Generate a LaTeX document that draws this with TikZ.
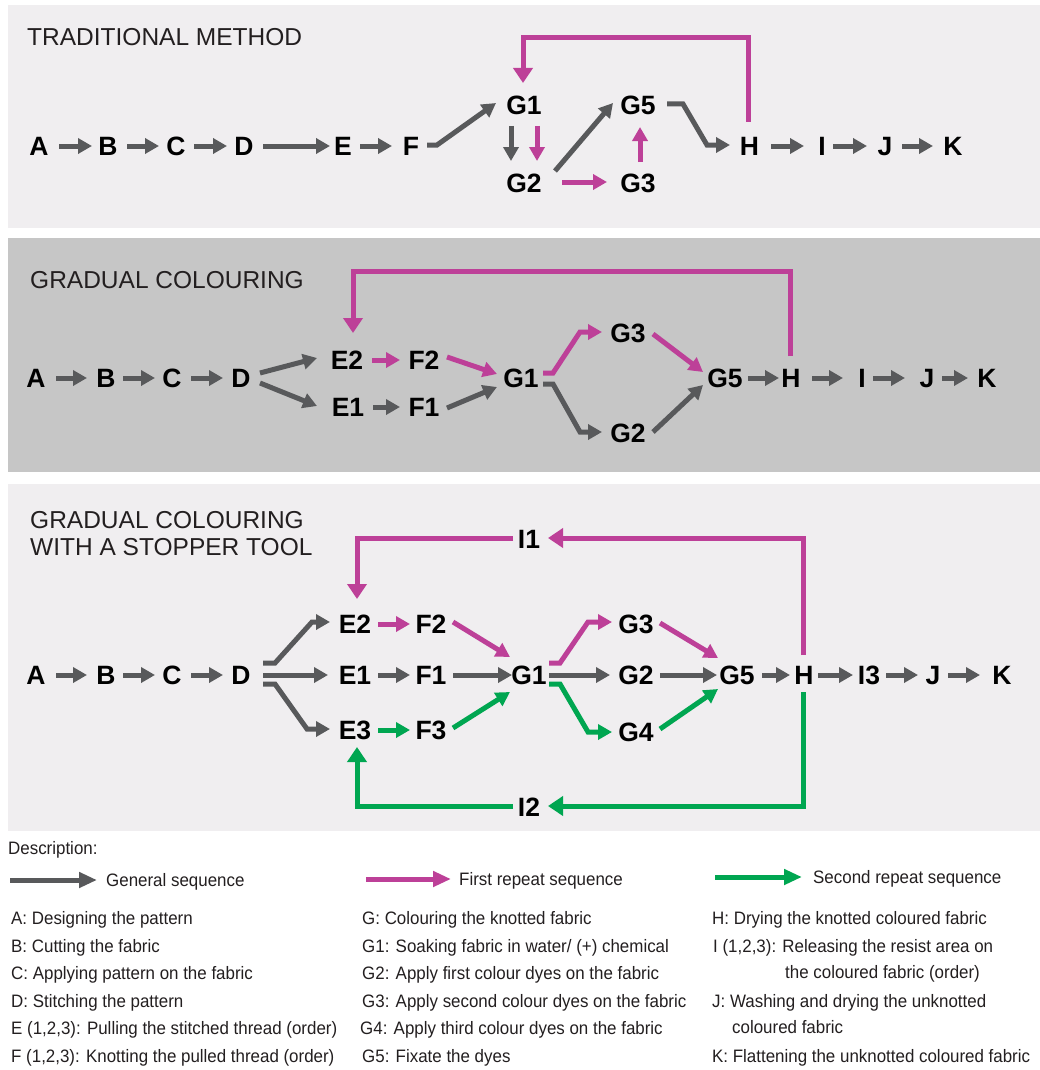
\documentclass[tikz,border=0pt]{standalone}
\usepackage{fontspec}
\setmainfont{Liberation Sans}
\newfontfamily\legendfont[FakeStretch=0.94]{Liberation Sans}
\usetikzlibrary{arrows.meta,calc}

\definecolor{seqgray}{RGB}{88,89,91}
\definecolor{seqmag}{RGB}{189,64,152}
\definecolor{seqgreen}{RGB}{0,166,81}
\definecolor{panellight}{RGB}{240,238,240}
\definecolor{panelmid}{RGB}{198,198,198}
\definecolor{inktext}{RGB}{35,31,32}

\tikzset{
  stepnode/.style={font=\fontsize{26.5}{31}\selectfont\bfseries, inner sep=0pt,
    text height=19pt, text depth=0pt, anchor=center},
  flow/.style={line width=5pt, line join=miter, -{Triangle[length=14pt,width=15pt]}},
  gen/.style={flow, draw=seqgray},
  rep1/.style={flow, draw=seqmag},
  rep2/.style={flow, draw=seqgreen},
  loopflow/.style={line width=5pt, line join=miter, -{Triangle[length=15pt,width=19pt]}},
  paneltitle/.style={font=\fontsize{24.5}{28}\selectfont, text=inktext, anchor=west,
    inner sep=0pt, text height=17.5pt, text depth=0pt},
  legtext/.style={font=\legendfont\fontsize{18}{21}\selectfont, text=inktext, anchor=west,
    inner sep=0pt, text height=12.9pt, text depth=0pt},
  legarrow/.style={line width=5pt, -{Triangle[length=18pt,width=15pt]}},
}

\begin{document}
\begin{tikzpicture}[x=1pt,y=-1pt]
\useasboundingbox (0,0) rectangle (1040,1070);
\fill[white] (0,0) rectangle (1040,1070);

% panels
\fill[panellight] (8,5) rectangle (1040,228);
\fill[panelmid] (8,238) rectangle (1040,472);
\fill[panellight] (8,484) rectangle (1040,831);

% ---------------- traditional method ----------------
\node[paneltitle] (t1) at (27,37) {TRADITIONAL METHOD};
\node[stepnode] (aA) at (39,146) {A};
\node[stepnode] (aB) at (108,146) {B};
\node[stepnode] (aC) at (176,146) {C};
\node[stepnode] (aD) at (244,146) {D};
\node[stepnode] (aE) at (343,146) {E};
\node[stepnode] (aF) at (411,146) {F};
\node[stepnode] (aG1) at (524,105) {G1};
\node[stepnode] (aG2) at (524,183) {G2};
\node[stepnode] (aG5) at (638,105) {G5};
\node[stepnode] (aG3) at (638,183) {G3};
\node[stepnode] (aH) at (749.5,146) {H};
\node[stepnode] (aI) at (822,146) {I};
\node[stepnode] (aJ) at (885,146) {J};
\node[stepnode] (aK) at (953,146) {K};

\draw[gen] ($(aA)+(20,0)$) -- ($(aB)+(-16,0)$);
\draw[gen] ($(aB)+(19,0)$) -- ($(aC)+(-17,0)$);
\draw[gen] ($(aC)+(18,0)$) -- ($(aD)+(-17,0)$);
\draw[gen] ($(aD)+(19,0)$) -- ($(aE)+(-13,0)$);
\draw[gen] ($(aE)+(17,0)$) -- ($(aF)+(-19,0)$);
\draw[gen] ($(aF)+(16,-1)$) -- ++(10,0) -- ($(aG1)+(-28,-2)$);
\draw[gen] ($(aG1)+(-13,21)$) -- ($(aG2)+(-13,-22)$);
\draw[rep1] ($(aG1)+(13,21)$) -- ($(aG2)+(13,-22)$);
\draw[gen] ($(aG2)+(31,-12)$) -- ($(aG5)+(-25,-2)$);
\draw[rep1] ($(aG2)+(38,-1)$) -- ($(aG3)+(-31,-1)$);
\draw[rep1] ($(aG3)+(2,-21)$) -- ($(aG5)+(2,22)$);
\draw[gen] ($(aG5)+(29,-1)$) -- ++(16,0) -- ($(aH)+(-42.5,-1)$) -- ($(aH)+(-19.5,-1)$);
\draw[gen] ($(aH)+(21.5,0)$) -- ($(aI)+(-18,0)$);
\draw[gen] ($(aI)+(11,0)$) -- ($(aJ)+(-18,0)$);
\draw[gen] ($(aJ)+(17,0)$) -- ($(aK)+(-20,0)$);
\draw[loopflow, draw=seqmag] ($(aH)+(-1,-24)$) -- ++(0,-84) -| ($(aG1)+(-1,-22)$);

% ---------------- gradual colouring ----------------
\node[paneltitle] (t2) at (30,280) {GRADUAL COLOURING};
\node[stepnode] (bA) at (36,378) {A};
\node[stepnode] (bB) at (106,378) {B};
\node[stepnode] (bC) at (172,378) {C};
\node[stepnode] (bD) at (241,378) {D};
\node[stepnode] (bE2) at (347,360) {E2};
\node[stepnode] (bF2) at (424,360) {F2};
\node[stepnode] (bE1) at (348,407) {E1};
\node[stepnode] (bF1) at (424,407) {F1};
\node[stepnode] (bG1) at (521,378) {G1};
\node[stepnode] (bG3) at (628,333) {G3};
\node[stepnode] (bG2) at (628,433) {G2};
\node[stepnode] (bG5) at (725,378) {G5};
\node[stepnode] (bH) at (791,378) {H};
\node[stepnode] (bI) at (862,378) {I};
\node[stepnode] (bJ) at (927,378) {J};
\node[stepnode] (bK) at (987,378) {K};

\draw[gen] ($(bA)+(20,0)$) -- ($(bB)+(-19,0)$);
\draw[gen] ($(bB)+(17,0)$) -- ($(bC)+(-17,0)$);
\draw[gen] ($(bC)+(19,0)$) -- ($(bD)+(-18,0)$);
\draw[gen] ($(bD)+(19,-5)$) -- ($(bE2)+(-30,-2)$);
\draw[gen] ($(bD)+(19,5)$) -- ($(bE1)+(-31,-1)$);
\draw[rep1] ($(bE2)+(25,0)$) -- ($(bF2)+(-24,0)$);
\draw[gen] ($(bE1)+(25,0)$) -- ($(bF1)+(-24,0)$);
\draw[rep1] ($(bF2)+(23,-3)$) -- ($(bG1)+(-24,-4)$);
\draw[gen] ($(bF1)+(23,1)$) -- ($(bG1)+(-24,9)$);
\draw[rep1] ($(bG1)+(22,-5)$) -- ++(10,0) -- ($(bG3)+(-48,-1)$) -- ($(bG3)+(-26,-1)$);
\draw[gen] ($(bG1)+(22,6)$) -- ++(10,0) -- ($(bG2)+(-48,-1)$) -- ($(bG2)+(-26,-1)$);
\draw[rep1] ($(bG3)+(25,1)$) -- ($(bG5)+(-22,-6)$);
\draw[gen] ($(bG2)+(25,-1)$) -- ($(bG5)+(-22,7)$);
\draw[gen] ($(bG5)+(23,0)$) -- ($(bH)+(-12,0)$);
\draw[gen] ($(bH)+(21,0)$) -- ($(bI)+(-19,0)$);
\draw[gen] ($(bI)+(11,0)$) -- ($(bJ)+(-22,0)$);
\draw[gen] ($(bJ)+(15,0)$) -- ($(bK)+(-19,0)$);
\draw[loopflow, draw=seqmag] ($(bH)+(-1,-22)$) -- ++(0,-85) -| ($(bE2)+(6,-27)$);

% ---------------- gradual colouring with a stopper tool ----------------
\node[paneltitle] (t3a) at (30,520) {GRADUAL COLOURING};
\node[paneltitle] (t3b) at (30,547) {WITH A STOPPER TOOL};
\node[stepnode] (cA) at (36,675) {A};
\node[stepnode] (cB) at (106,675) {B};
\node[stepnode] (cC) at (172,675) {C};
\node[stepnode] (cD) at (241,675) {D};
\node[stepnode] (cE2) at (355,624) {E2};
\node[stepnode] (cF2) at (431,624) {F2};
\node[stepnode] (cE1) at (355,675) {E1};
\node[stepnode] (cF1) at (431,675) {F1};
\node[stepnode] (cE3) at (355,730) {E3};
\node[stepnode] (cF3) at (431,730) {F3};
\node[stepnode] (cG1) at (529,675) {G1};
\node[stepnode] (cG3) at (636,624) {G3};
\node[stepnode] (cG2) at (636,675) {G2};
\node[stepnode] (cG4) at (636,732) {G4};
\node[stepnode] (cG5) at (737,675) {G5};
\node[stepnode] (cH) at (804,675) {H};
\node[stepnode] (cI3) at (869,675) {I3};
\node[stepnode] (cJ) at (933,675) {J};
\node[stepnode] (cK) at (1002,675) {K};
\node[stepnode] (cI1) at (529,539) {I1};
\node[stepnode] (cI2) at (529,807) {I2};

\draw[gen] ($(cA)+(20,0)$) -- ($(cB)+(-19,0)$);
\draw[gen] ($(cB)+(17,0)$) -- ($(cC)+(-17,0)$);
\draw[gen] ($(cC)+(19,0)$) -- ($(cD)+(-18,0)$);
\draw[gen] ($(cD)+(22,-12)$) -- ++(12,0) -- ($(cE2)+(-43,-2)$) -- ($(cE2)+(-25,-2)$);
\draw[gen] ($(cD)+(22,0)$) -- ($(cE1)+(-27,0)$);
\draw[gen] ($(cD)+(22,9)$) -- ++(12,0) -- ($(cE3)+(-48,-1)$) -- ($(cE3)+(-25,-1)$);
\draw[rep1] ($(cE2)+(23,0)$) -- ($(cF2)+(-21,0)$);
\draw[gen] ($(cE1)+(23,0)$) -- ($(cF1)+(-21,0)$);
\draw[rep2] ($(cE3)+(23,0)$) -- ($(cF3)+(-21,0)$);
\draw[rep1] ($(cF2)+(22,-2)$) -- ($(cG1)+(-19,-18)$);
\draw[gen] ($(cF1)+(22,0)$) -- ($(cG1)+(-17,0)$);
\draw[rep2] ($(cF3)+(22,-2)$) -- ($(cG1)+(-19,17)$);
\draw[rep1] ($(cG1)+(20,-12)$) -- ++(11,0) -- ($(cG3)+(-48,-2)$) -- ($(cG3)+(-24,-2)$);
\draw[gen] ($(cG1)+(20,0)$) -- ($(cG2)+(-26,0)$);
\draw[rep2] ($(cG1)+(20,9)$) -- ++(11,0) -- ($(cG4)+(-48,0)$) -- ($(cG4)+(-24,0)$);
\draw[rep1] ($(cG3)+(24,-1)$) -- ($(cG5)+(-19,-17)$);
\draw[gen] ($(cG2)+(24,0)$) -- ($(cG5)+(-20,0)$);
\draw[rep2] ($(cG4)+(24,-3)$) -- ($(cG5)+(-19,14)$);
\draw[gen] ($(cG5)+(25,0)$) -- ($(cH)+(-14,0)$);
\draw[gen] ($(cH)+(14,0)$) -- ($(cI3)+(-16,0)$);
\draw[gen] ($(cI3)+(17,0)$) -- ($(cJ)+(-15,0)$);
\draw[gen] ($(cJ)+(15,0)$) -- ($(cK)+(-22,0)$);
\draw[loopflow, draw=seqmag] ($(cH)+(-1,-20)$) |- ($(cI1)+(19,-1)$);
\draw[loopflow, draw=seqmag] ($(cI1)+(-16,-1)$) -| ($(cE2)+(2,-25)$);
\draw[loopflow, draw=seqgreen] ($(cH)+(-1,17)$) |- ($(cI2)+(19,-1)$);
\draw[loopflow, draw=seqgreen] ($(cI2)+(-16,-1)$) -| ($(cE3)+(2,17)$);

% ---------------- description ----------------
\node[legtext] (desc) at (8,848) {Description:};
\node[legtext] (lgen) at (106,880) {General sequence};
\node[legtext] (lrep1) at (459,879) {First repeat sequence};
\node[legtext] (lrep2) at (813,877) {Second repeat sequence};
\coordinate (sgen) at (10,880);
\coordinate (srep1) at (366,879);
\coordinate (srep2) at (715,877);
\draw[legarrow, draw=seqgray] (sgen) -- ($(lgen.west)+(-9,0)$);
\draw[legarrow, draw=seqmag] (srep1) -- ($(lrep1.west)+(-8,0)$);
\draw[legarrow, draw=seqgreen] (srep2) -- ($(lrep2.west)+(-11,0)$);

\node[legtext] (dA) at (11,918) {A: Designing the pattern};
\node[legtext] (dB) at (11,945.6) {B: Cutting the fabric};
\node[legtext] (dC) at (11,973.2) {C: Applying pattern on the fabric};
\node[legtext] (dD) at (11,1000.8) {D: Stitching the pattern};
\node[legtext] (dE) at (11,1028.4) {E (1,2,3): Pulling the stitched thread (order)};
\node[legtext] (dF) at (11,1056) {F (1,2,3): Knotting the pulled thread (order)};

\node[legtext] (dG) at (362,918) {G: Colouring the knotted fabric};
\node[legtext] (dG1) at (362,945.6) {G1: Soaking fabric in water/ (+) chemical};
\node[legtext] (dG2) at (362,973.2) {G2: Apply first colour dyes on the fabric};
\node[legtext] (dG3) at (362,1000.8) {G3: Apply second colour dyes on the fabric};
\node[legtext] (dG4) at (360,1028.4) {G4: Apply third colour dyes on the fabric};
\node[legtext] (dG5) at (362,1056) {G5: Fixate the dyes};

\node[legtext] (dH) at (712,918) {H: Drying the knotted coloured fabric};
\node[legtext] (dI) at (713,945.6) {I (1,2,3): Releasing the resist area on};
\node[legtext] (dIb) at (785,972) {the coloured fabric (order)};
\node[legtext] (dJ) at (712,1000.8) {J: Washing and drying the unknotted};
\node[legtext] (dJb) at (732,1027.5) {coloured fabric};
\node[legtext] (dK) at (712,1056) {K: Flattening the unknotted coloured fabric};
\end{tikzpicture}
\end{document}
